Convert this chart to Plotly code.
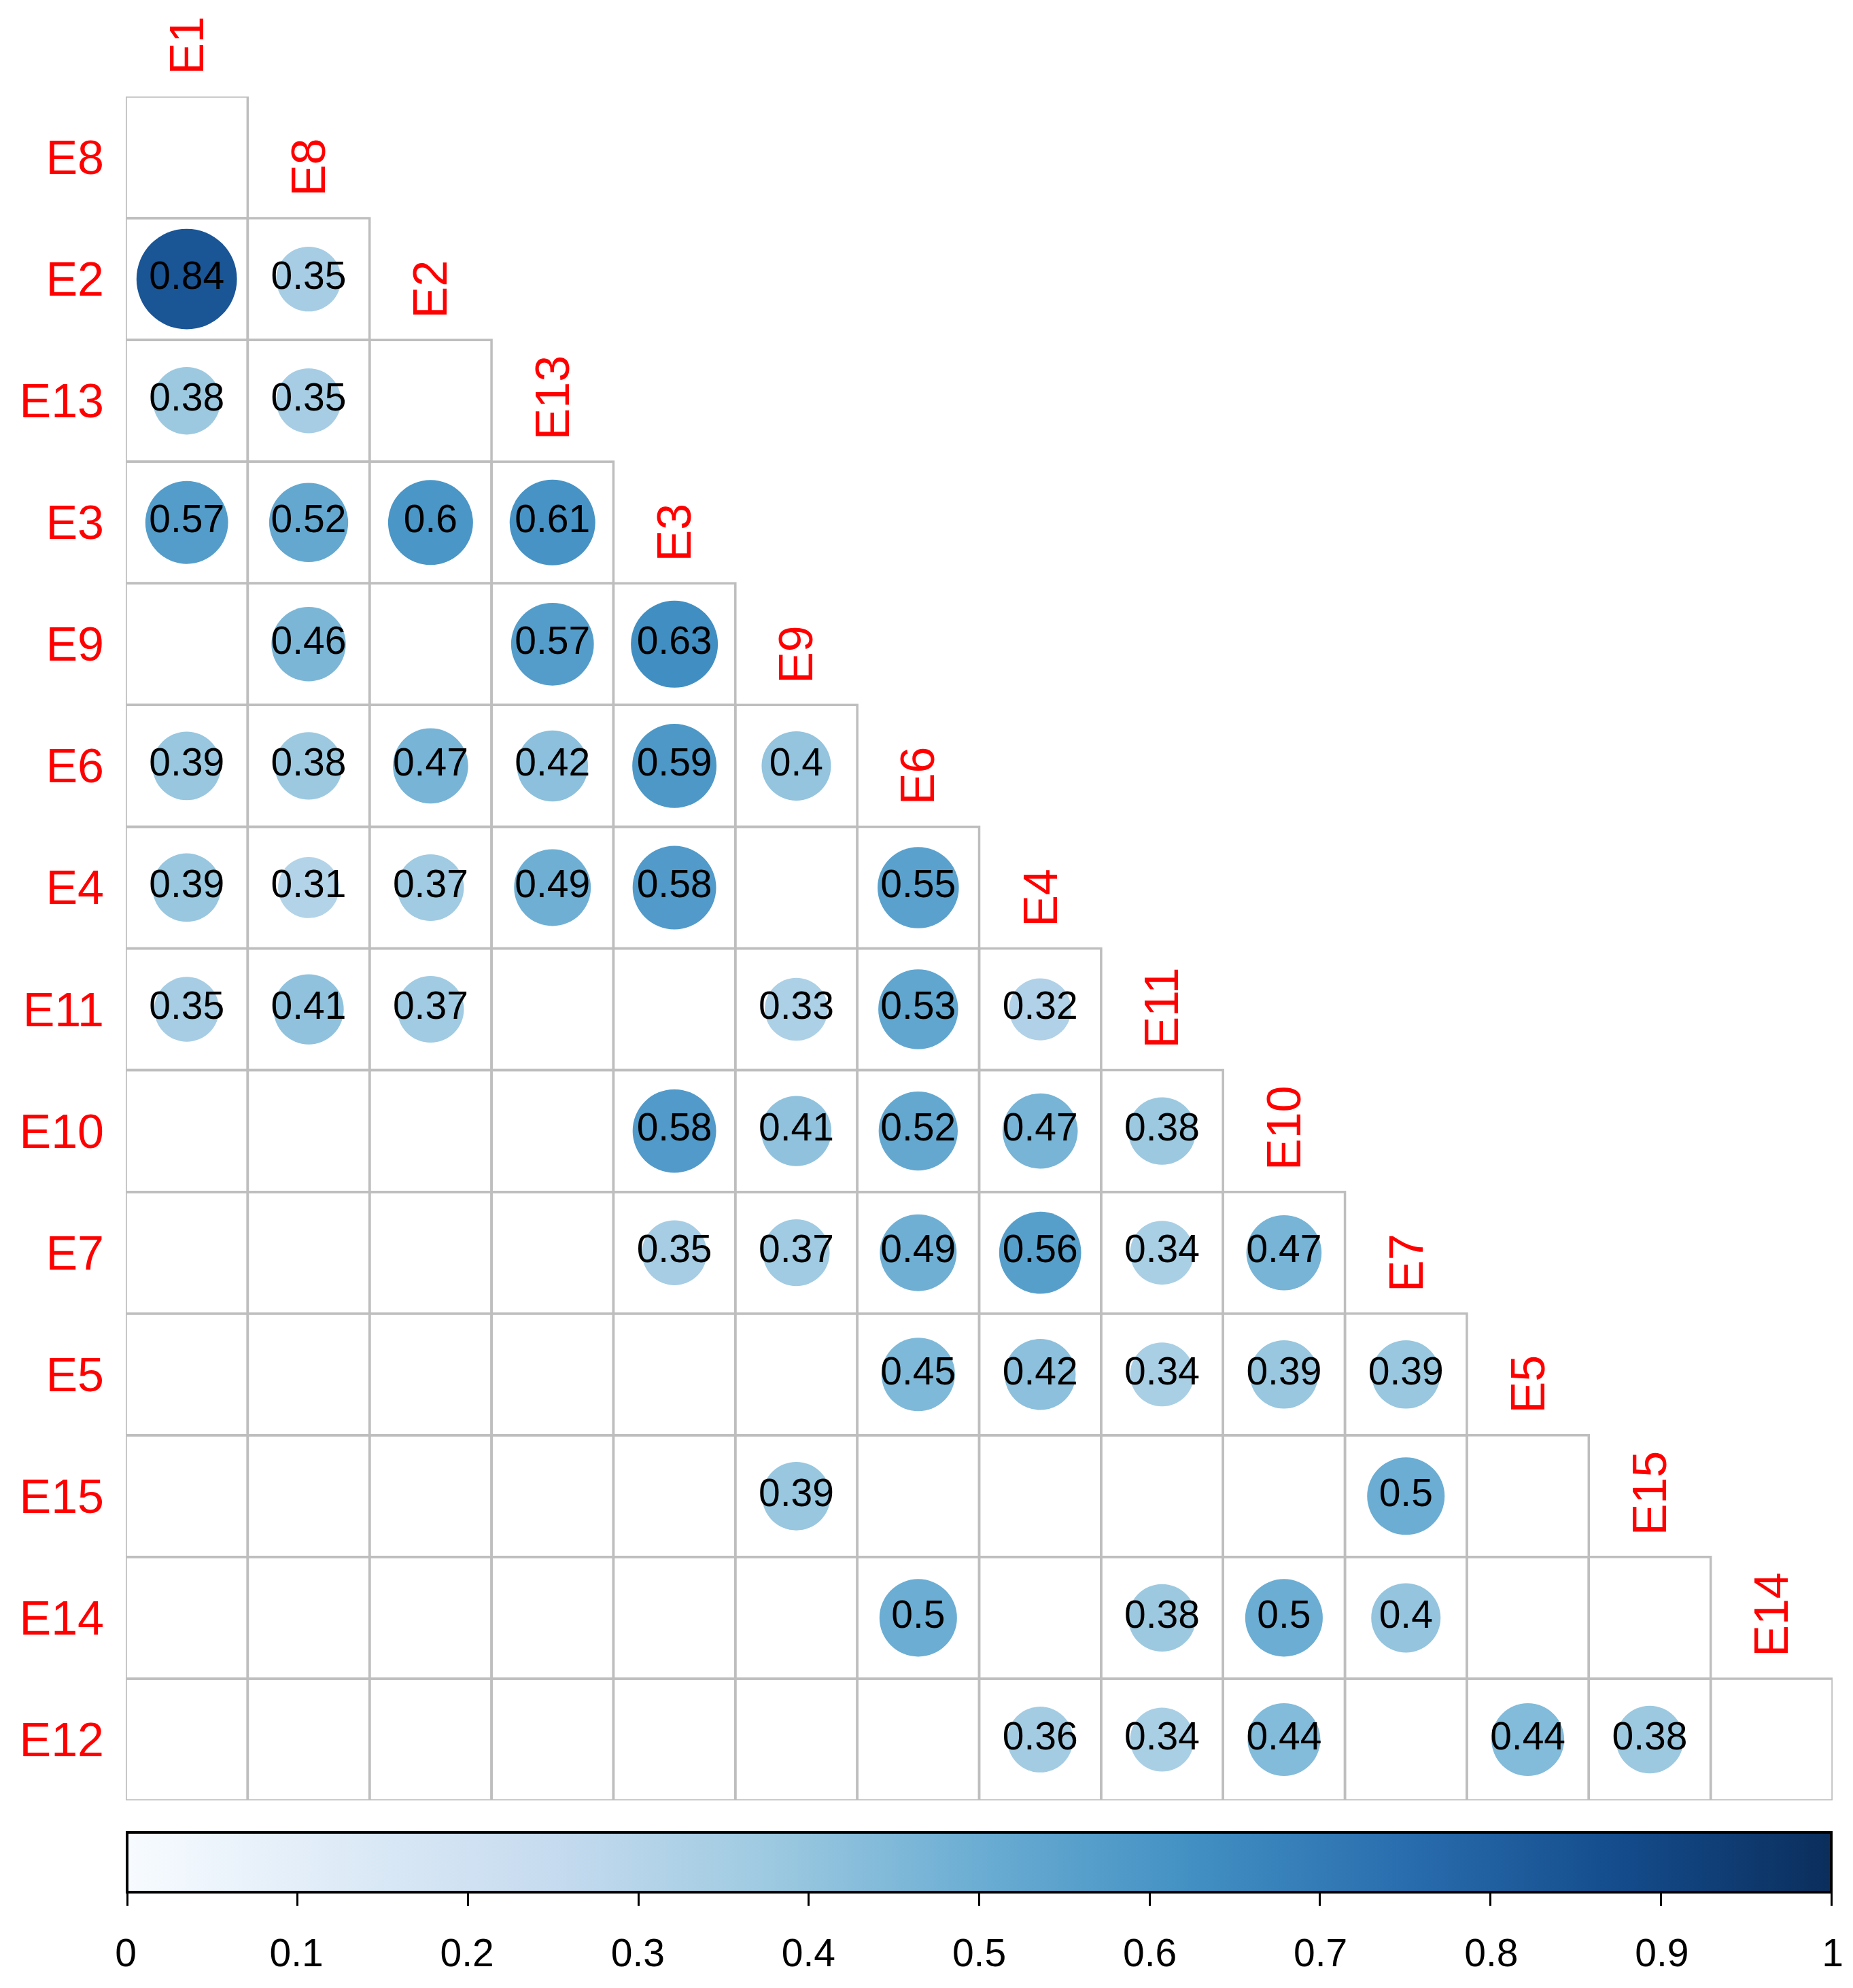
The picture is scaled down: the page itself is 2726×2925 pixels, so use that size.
"""Correlation plot (lower triangle, circles sized by |r|)."""

from __future__ import annotations

import math

import plotly.graph_objects as go

# Variable order used for rows / columns
variables = ["E1", "E8", "E2", "E13", "E3", "E9", "E6", "E4",
             "E11", "E10", "E7", "E5", "E15", "E14", "E12"]

# Significant pairs only (blank cells are left out)
row_var = [
    "E2", "E2",
    "E13", "E13",
    "E3", "E3", "E3", "E3",
    "E9", "E9", "E9",
    "E6", "E6", "E6", "E6", "E6", "E6",
    "E4", "E4", "E4", "E4", "E4", "E4",
    "E11", "E11", "E11", "E11", "E11", "E11",
    "E10", "E10", "E10", "E10", "E10",
    "E7", "E7", "E7", "E7", "E7", "E7",
    "E5", "E5", "E5", "E5", "E5",
    "E15", "E15",
    "E14", "E14", "E14", "E14",
    "E12", "E12", "E12", "E12", "E12",
]
col_var = [
    "E1", "E8",
    "E1", "E8",
    "E1", "E8", "E2", "E13",
    "E8", "E13", "E3",
    "E1", "E8", "E2", "E13", "E3", "E9",
    "E1", "E8", "E2", "E13", "E3", "E6",
    "E1", "E8", "E2", "E9", "E6", "E4",
    "E3", "E9", "E6", "E4", "E11",
    "E3", "E9", "E6", "E4", "E11", "E10",
    "E6", "E4", "E11", "E10", "E7",
    "E9", "E7",
    "E6", "E11", "E10", "E7",
    "E4", "E11", "E10", "E5", "E15",
]
corr = [
    0.84, 0.35,
    0.38, 0.35,
    0.57, 0.52, 0.60, 0.61,
    0.46, 0.57, 0.63,
    0.39, 0.38, 0.47, 0.42, 0.59, 0.40,
    0.39, 0.31, 0.37, 0.49, 0.58, 0.55,
    0.35, 0.41, 0.37, 0.33, 0.53, 0.32,
    0.58, 0.41, 0.52, 0.47, 0.38,
    0.35, 0.37, 0.49, 0.56, 0.34, 0.47,
    0.45, 0.42, 0.34, 0.39, 0.39,
    0.39, 0.50,
    0.50, 0.38, 0.50, 0.40,
    0.36, 0.34, 0.44, 0.44, 0.38,
]

colorbar_ticks = [0, 0.1, 0.2, 0.3, 0.4, 0.5, 0.6, 0.7, 0.8, 0.9, 1]

BLUES = [
    [0.0, "#F7FBFF"], [0.125, "#DEEBF7"], [0.25, "#C6DBEF"],
    [0.375, "#9ECAE1"], [0.5, "#6BADD3"], [0.625, "#4290C3"],
    [0.75, "#296DAE"], [0.875, "#144C8C"], [1.0, "#0B2E5C"],
]
FONT = "Liberation Sans, Arial, sans-serif"


def build_corrplot() -> go.Figure:
    rows = variables[1:]
    cols = variables[:-1]
    n = len(rows)

    # page body has an 8px margin, so the figure is 16px smaller than the window
    W, H = 2710, 2909
    ml, mr, mt, mb = 177, 22, 134, 268
    plot_h = H - mt - mb
    cell_px = ((W - ml - mr) / n + plot_h / n) / 2

    xs = [cols.index(c) + 1 for c in col_var]
    ys = [rows.index(r) + 1 for r in row_var]
    sizes = [0.9 * math.sqrt(abs(v)) * cell_px for v in corr]
    labels = [f"{v:g}" for v in corr]

    fig = go.Figure()

    # grid of the lower triangle
    for i in range(1, n + 1):
        for j in range(1, i + 1):
            fig.add_shape(
                type="rect", xref="x", yref="y",
                x0=j - 0.5, x1=j + 0.5, y0=i - 0.5, y1=i + 0.5,
                line=dict(color="#BEBEBE", width=3.5),
                fillcolor="rgba(0,0,0,0)", layer="below",
            )

    fig.add_trace(go.Scatter(
        x=xs, y=ys, mode="markers+text",
        text=labels, textposition="middle center",
        textfont=dict(family=FONT, size=57, color="black"),
        marker=dict(
            size=sizes, color=corr, colorscale=BLUES, cmin=0, cmax=1,
            line=dict(width=0), opacity=1,
            showscale=True,
            colorbar=dict(
                orientation="h",
                x=0.5, xanchor="center", xref="paper",
                y=-47 / plot_h, yanchor="top", yref="paper",
                len=W - ml - mr - 4, lenmode="pixels",
                thickness=88, thicknessmode="pixels",
                outlinewidth=4, outlinecolor="black",
                xpad=0, ypad=0,
                tickvals=colorbar_ticks,
                ticks="outside", ticklen=18, tickwidth=3, tickcolor="black",
                showticklabels=False,
            ),
        ),
        hoverinfo="skip", showlegend=False, cliponaxis=False,
    ))

    # colour-key labels: a free x axis spanning the same width as the key
    fig.add_trace(go.Scatter(
        x=colorbar_ticks, y=[n + 5] * len(colorbar_ticks), xaxis="x2",
        mode="markers", marker=dict(opacity=0),
        hoverinfo="skip", showlegend=False,
    ))

    # column labels, rotated, above the top cell of each column
    for j, name in enumerate(cols, start=1):
        fig.add_annotation(
            x=j, y=j - 0.5, xref="x", yref="y",
            text=name, textangle=-90, showarrow=False,
            xanchor="center", yanchor="bottom", yshift=30,
            font=dict(family=FONT, size=70, color="red"),
        )

    fig.update_layout(
        width=W, height=H,
        margin=dict(l=ml, r=mr, t=mt, b=mb, pad=0, autoexpand=False),
        paper_bgcolor="white", plot_bgcolor="white",
        xaxis=dict(range=[0.5, n + 0.5], showgrid=False, zeroline=False,
                   showticklabels=False, showline=False, ticks="",
                   automargin=False),
        xaxis2=dict(range=[0, 1], overlaying="x", anchor="free", position=0,
                    side="bottom", showgrid=False, zeroline=False,
                    showline=False, ticks="", automargin=False,
                    tickvals=colorbar_ticks,
                    ticktext=[f"{t:g}" for t in colorbar_ticks],
                    ticklabelstandoff=186,
                    tickfont=dict(family=FONT, size=57, color="black")),
        yaxis=dict(range=[n + 0.5, 0.5], showgrid=False, zeroline=False,
                   showline=False, ticks="", automargin=False,
                   tickvals=list(range(1, n + 1)), ticktext=rows,
                   ticklabelstandoff=31,
                   tickfont=dict(family=FONT, size=70, color="red")),
    )
    return fig


fig = build_corrplot()
fig.write_html("out.html")
